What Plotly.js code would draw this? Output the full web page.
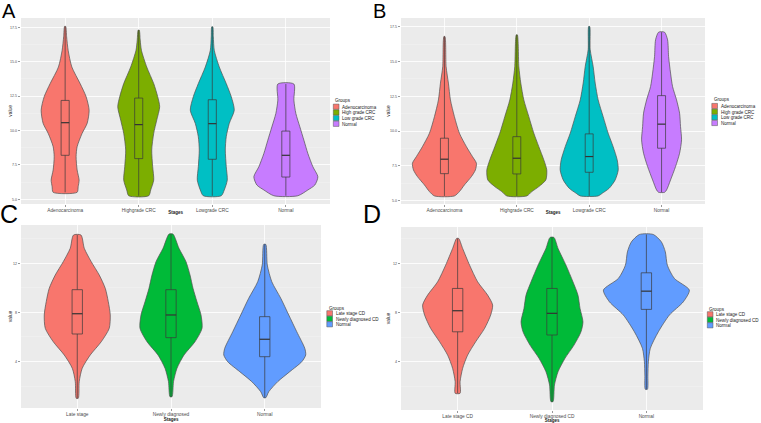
<!DOCTYPE html>
<html>
<head>
<meta charset="utf-8">
<script src="https://cdn.plot.ly/plotly-3.0.1.min.js"></script>
<style>html,body{margin:0;padding:0;background:#fff;}#chart{width:761px;height:423px;}</style>
</head>
<body>
<div id="chart"></div>
<script>
// ---------------- DATA ----------------
// Panel A
const A_groups = ['Adenocarcinoma', 'High grade CRC', 'Low grade CRC', 'Normal'];
const A_ticks = ['Adenocarcinoma', 'Highgrade CRC', 'Lowgrade CRC', 'Normal'];
const A_levels = [
  [17.57, 16.82, 15.83, 14.62, 13.41, 12.46, 11.48, 10.52, 9.80, 8.83, 8.10, 7.13, 6.40, 5.92, 5.51],
  [17.30, 16.58, 15.83, 14.62, 13.41, 12.46, 11.73, 10.76, 9.80, 8.58, 7.37, 6.40, 5.68, 5.26],
  [17.54, 16.82, 15.83, 14.62, 13.41, 12.46, 11.48, 10.52, 9.55, 8.58, 7.37, 6.40, 5.68, 5.26],
  [13.38, 12.21, 11.24, 10.27, 9.30, 8.33, 7.37, 6.64, 6.04, 5.68, 5.26]
];
const A_halfWidths = [
  [0.007, 0.02, 0.041, 0.091, 0.204, 0.285, 0.326, 0.299, 0.231, 0.163, 0.149, 0.163, 0.190, 0.177, 0.163],
  [0.007, 0.02, 0.037, 0.109, 0.204, 0.258, 0.285, 0.245, 0.204, 0.177, 0.190, 0.204, 0.163, 0.136],
  [0.007, 0.014, 0.027, 0.095, 0.19, 0.258, 0.299, 0.231, 0.19, 0.177, 0.19, 0.204, 0.163, 0.122],
  [0.109, 0.109, 0.136, 0.19, 0.245, 0.299, 0.367, 0.435, 0.394, 0.299, 0.163]
];
const A_q1 = [8.20, 7.96, 7.91, 6.62];
const A_median = [10.57, 10.43, 10.50, 8.20];
const A_q3 = [12.19, 12.36, 12.24, 9.96];
const A_min = [5.51, 5.26, 5.26, 5.26];
const A_max = [17.57, 17.30, 17.54, 13.38];

// Panel B
const B_groups = ['Adenocarcinoma', 'High grade CRC', 'Low grade CRC', 'Normal'];
const B_ticks = ['Adenocarcinoma', 'Highgrade CRC', 'Lowgrade CRC', 'Normal'];
const B_levels = [
  [16.80, 14.64, 13.45, 12.24, 11.04, 9.85, 8.88, 8.17, 7.69, 7.21, 6.73, 6.13, 5.65, 5.34],
  [16.92, 14.64, 13.45, 12.24, 11.04, 9.85, 8.88, 7.93, 7.21, 6.49, 6.01, 5.65, 5.34],
  [17.52, 15.86, 14.64, 13.45, 12.24, 11.04, 9.85, 8.88, 7.93, 7.21, 6.49, 5.89, 5.53, 5.34],
  [17.11, 16.56, 15.36, 14.17, 13.20, 12.24, 11.29, 10.32, 9.37, 8.41, 7.45, 6.49, 5.77, 5.60]
];
const B_halfWidths = [
  [0.007, 0.023, 0.055, 0.083, 0.138, 0.207, 0.304, 0.387, 0.442, 0.428, 0.373, 0.276, 0.207, 0.138],
  [0.007, 0.028, 0.055, 0.097, 0.166, 0.235, 0.304, 0.373, 0.414, 0.401, 0.304, 0.207, 0.138],
  [0.007, 0.014, 0.055, 0.083, 0.124, 0.193, 0.262, 0.331, 0.387, 0.401, 0.359, 0.276, 0.18, 0.124],
  [0.041, 0.083, 0.097, 0.124, 0.152, 0.207, 0.249, 0.262, 0.276, 0.249, 0.193, 0.124, 0.069, 0.041]
];
const B_q1 = [6.94, 6.92, 7.04, 8.77];
const B_median = [7.98, 8.05, 8.17, 10.50];
const B_q3 = [9.49, 9.60, 9.80, 12.55];
const B_min = [5.34, 5.34, 5.34, 5.60];
const B_max = [16.80, 16.92, 17.52, 17.11];

// Panel C
const C_groups = ['Late stage CD', 'Newly diagnosed CD', 'Normal'];
const C_ticks = ['Late stage', 'Newly diagnosed', 'Normal'];
const C_levels = [
  [14.30, 13.22, 12.13, 11.04, 9.96, 8.87, 7.79, 6.70, 5.61, 4.53, 3.45, 2.36, 1.00],
  [14.38, 13.22, 12.13, 11.04, 9.96, 8.87, 7.79, 6.70, 5.61, 4.53, 3.45, 2.36, 1.13],
  [13.54, 11.86, 10.50, 9.15, 7.79, 6.43, 5.07, 4.53, 3.98, 3.17, 2.36, 1.54, 1.05]
];
const C_halfWidths = [
  [0.04, 0.075, 0.149, 0.235, 0.299, 0.331, 0.352, 0.341, 0.256, 0.139, 0.053, 0.021, 0.011],
  [0.021, 0.085, 0.16, 0.203, 0.235, 0.277, 0.32, 0.331, 0.256, 0.139, 0.064, 0.027, 0.011],
  [0.011, 0.027, 0.075, 0.171, 0.256, 0.341, 0.427, 0.437, 0.395, 0.267, 0.139, 0.043, 0.011]
];
const C_q1 = [6.24, 5.94, 4.39];
const C_median = [7.89, 7.79, 5.81];
const C_q3 = [9.85, 9.85, 7.65];
const C_min = [1.00, 1.13, 1.05];
const C_max = [14.30, 14.38, 13.54];

// Panel D
const D_groups = ['Late stage CD', 'Newly diagnosed CD', 'Normal'];
const D_ticks = ['Late stage CD', 'Newly diagnosed CD', 'Normal'];
const D_levels = [
  [14.01, 13.20, 11.84, 10.49, 9.41, 8.60, 7.79, 6.71, 5.62, 4.54, 3.46, 2.38, 1.44],
  [14.09, 13.20, 11.84, 10.49, 9.41, 8.33, 7.24, 6.43, 5.35, 4.28, 3.19, 2.11, 0.76],
  [14.33, 13.73, 12.92, 11.84, 10.76, 9.82, 8.87, 7.79, 6.43, 5.09, 4.00, 2.92, 1.76]
];
const D_halfWidths = [
  [0.011, 0.053, 0.127, 0.212, 0.318, 0.371, 0.35, 0.286, 0.191, 0.106, 0.053, 0.026, 0.026],
  [0.021, 0.064, 0.148, 0.222, 0.275, 0.297, 0.328, 0.307, 0.233, 0.138, 0.064, 0.026, 0.011],
  [0.074, 0.159, 0.201, 0.222, 0.297, 0.455, 0.392, 0.244, 0.127, 0.042, 0.021, 0.016, 0.011]
];
const D_q1 = [6.43, 6.17, 8.25];
const D_median = [8.14, 7.93, 9.73];
const D_q3 = [9.95, 9.95, 11.22];
const D_min = [1.44, 0.76, 1.76];
const D_max = [14.01, 14.09, 14.33];

const colors4 = ['#F8766D', '#7CAE00', '#00BFC4', '#C77CFF'];
const colors3 = ['#F8766D', '#00BA38', '#619CFF'];

// ---------------- BUILD ----------------
const W = 761, H = 423;
const px = v => v / W;
const py = v => 1 - v / H;
const FONT = 'Liberation Sans, Arial, sans-serif';
const BOX_HALF = 0.055;

const panels = [
  {id: '', letter: 'A', groups: A_groups, ticks: A_ticks, levels: A_levels, hw: A_halfWidths,
   q1: A_q1, med: A_median, q3: A_q3, lo: A_min, hi: A_max, colors: colors4,
   dom: [21, 330, 18, 204], yr: [4.66, 18.18], yt: [5, 7.5, 10, 12.5, 15, 17.5], ytt: ['5.0','7.5','10.0','12.5','15.0','17.5'], minor: 1.25,
   leg: {x: 333, title: 100, rows: [106.7, 112.4, 118.1, 123.8]}, let: [1, -1, 20], titleDy: -4, yTitleDx: 7},
  {id: '2', letter: 'B', groups: B_groups, ticks: B_ticks, levels: B_levels, hw: B_halfWidths,
   q1: B_q1, med: B_median, q3: B_q3, lo: B_min, hi: B_max, colors: colors4,
   dom: [401, 705, 18, 204], yr: [4.76, 18.13], yt: [5, 7.5, 10, 12.5, 15, 17.5], ytt: ['5.0','7.5','10.0','12.5','15.0','17.5'], minor: 1.25,
   leg: {x: 711.5, title: 99, rows: [106, 111.7, 117.3, 123]}, let: [372, -1, 20], titleDy: -4, yTitleDx: 7},
  {id: '3', letter: 'C', groups: C_groups, ticks: C_ticks, levels: C_levels, hw: C_halfWidths,
   q1: C_q1, med: C_median, q3: C_q3, lo: C_min, hi: C_max, colors: colors3,
   dom: [21, 321, 225, 408], yr: [0.21, 15.12], yt: [4, 8, 12], ytt: ['4','8','12'], minor: 2,
   leg: {x: 326.5, title: 307.5, rows: [313.3, 318.8, 324.3]}, let: [-1, 199, 25], titleDy: 0, yTitleDx: 4},
  {id: '4', letter: 'D', groups: D_groups, ticks: D_ticks, levels: D_levels, hw: D_halfWidths,
   q1: D_q1, med: D_median, q3: D_q3, lo: D_min, hi: D_max, colors: colors3,
   dom: [401, 703, 227, 410], yr: [0.08, 14.94], yt: [4, 8, 12], ytt: ['4','8','12'], minor: 2,
   leg: {x: 707, title: 309, rows: [314.3, 319.8, 325.3]}, let: [362, 199, 25], titleDy: 1, yTitleDx: 2}
];

const traces = [];
const layout = {
  width: W, height: H,
  margin: {l: 0, r: 0, t: 0, b: 0},
  paper_bgcolor: '#ffffff',
  plot_bgcolor: '#EBEBEB',
  showlegend: false,
  font: {family: FONT, color: '#000'},
  annotations: [],
  shapes: []
};

panels.forEach(p => {
  const xa = 'x' + p.id, ya = 'y' + p.id;
  const n = p.groups.length;
  p.groups.forEach((g, i) => {
    const c = i + 1;
    const lv = p.levels[i], hw = p.hw[i];
    const xs = [], ys = [];
    for (let k = lv.length - 1; k >= 0; k--) { xs.push(c + hw[k]); ys.push(lv[k]); }
    for (let k = 0; k < lv.length; k++) { xs.push(c - hw[k]); ys.push(lv[k]); }
    xs.push(xs[0]); ys.push(ys[0]);
    traces.push({
      type: 'scatter', mode: 'lines', x: xs, y: ys, name: g,
      fill: 'toself', fillcolor: p.colors[i],
      line: {color: '#505050', width: 0.7, shape: 'spline', smoothing: 0.7},
      xaxis: xa, yaxis: ya, hoverinfo: 'skip', showlegend: false
    });
    // box (whiskers + box outline), built from the quartiles
    const a = c - BOX_HALF, b = c + BOX_HALF;
    traces.push({
      type: 'scatter', mode: 'lines', name: g + ' box',
      x: [c, c, null, a, b, b, a, a, null, c, c],
      y: [p.lo[i], p.q1[i], null, p.q1[i], p.q1[i], p.q3[i], p.q3[i], p.q1[i], null, p.q3[i], p.hi[i]],
      line: {color: '#3a3a3a', width: 0.7}, connectgaps: false,
      xaxis: xa, yaxis: ya, hoverinfo: 'skip', showlegend: false
    });
    traces.push({
      type: 'scatter', mode: 'lines', name: g + ' median',
      x: [a, b], y: [p.med[i], p.med[i]],
      line: {color: '#333333', width: 1.2},
      xaxis: xa, yaxis: ya, hoverinfo: 'skip', showlegend: false
    });
  });

  const d = p.dom;
  layout['xaxis' + p.id] = {
    domain: [px(d[0]), px(d[1])], anchor: ya,
    range: [0.4, n + 0.6],
    tickmode: 'array', tickvals: p.groups.map((_, i) => i + 1), ticktext: p.ticks,
    showgrid: true, gridcolor: '#ffffff', gridwidth: 0.8, zeroline: false, showline: false,
    ticks: 'outside', ticklen: 2, tickwidth: 0.6, tickcolor: '#555',
    tickfont: {family: FONT, size: 6, color: '#4d4d4d'},
    title: {text: '<b>Stages</b>', font: {family: FONT, size: 6, color: '#222'}, standoff: 0},
    fixedrange: true
  };
  layout['yaxis' + p.id] = {
    domain: [py(d[3]), py(d[2])], anchor: xa,
    range: p.yr,
    tickmode: 'array', tickvals: p.yt, ticktext: p.ytt,
    showgrid: true, gridcolor: '#ffffff', gridwidth: 0.8, zeroline: false, showline: false,
    minor: {tickmode: 'linear', tick0: 0, dtick: p.minor, showgrid: true, gridcolor: '#F4F4F4', gridwidth: 0.5, ticks: ''},
    ticks: 'outside', ticklen: 2, tickwidth: 0.6, tickcolor: '#555',
    tickfont: {family: FONT, size: 6, color: '#4d4d4d'},
    title: {text: 'value', font: {family: FONT, size: 6, color: '#222'}, standoff: 0},
    fixedrange: true
  };

  // panel letter
  layout.annotations.push({
    xref: 'paper', yref: 'paper', x: px(p.let[0]), y: py(p.let[1]),
    xanchor: 'left', yanchor: 'top', showarrow: false, borderpad: 0,
    text: p.letter, font: {family: FONT, size: p.let[2], color: '#000'}
  });

  // legend (ggplot style)
  layout.annotations.push({
    xref: 'paper', yref: 'paper', x: px(p.leg.x), y: py(p.leg.title),
    xanchor: 'left', yanchor: 'middle', showarrow: false,
    text: 'Groups', font: {family: FONT, size: 6, color: '#222'}
  });
  p.groups.forEach((g, i) => {
    const yc = p.leg.rows[i];
    layout.shapes.push({
      type: 'rect', xref: 'paper', yref: 'paper',
      x0: px(p.leg.x + 0.3), x1: px(p.leg.x + 6), y0: py(yc + 2.6), y1: py(yc - 2.6),
      fillcolor: p.colors[i], line: {color: '#555', width: 0.5}
    });
    layout.annotations.push({
      xref: 'paper', yref: 'paper', x: px(p.leg.x + 7.2), y: py(yc),
      xanchor: 'left', yanchor: 'middle', showarrow: false,
      text: g, font: {family: FONT, size: 6, color: '#222'}
    });
  });
});

// The browser will not draw text under 6px, so the tiny ggplot-sized texts
// are drawn at 6px and then scaled down around an anchor point.
function shrink(el, s, ax, ay, dx, dy) {
  const r = el.getBoundingClientRect();
  if (!r.width) return;
  const svg = el.ownerSVGElement;
  const parent = el.parentNode;
  const m = parent.getScreenCTM().inverse();
  const sx = r.left + ax * r.width, sy = r.top + ay * r.height;
  const p1 = svg.createSVGPoint(); p1.x = sx; p1.y = sy;
  const p2 = svg.createSVGPoint(); p2.x = sx + dx; p2.y = sy + dy;
  const a = p1.matrixTransform(m), b = p2.matrixTransform(m);
  const g = document.createElementNS('http://www.w3.org/2000/svg', 'g');
  g.setAttribute('transform', `translate(${b.x},${b.y}) scale(${s}) translate(${-a.x},${-a.y})`);
  parent.insertBefore(g, el);
  g.appendChild(el);
}

Plotly.newPlot('chart', traces, layout, {displayModeBar: false, staticPlot: true}).then(gd => {
  gd.querySelectorAll('.xaxislayer-above text').forEach(t => shrink(t, 0.8, 0.5, 0, 0, -1));
  gd.querySelectorAll('.yaxislayer-above text').forEach(t => shrink(t, 0.6, 1, 0.5, 0, 0));
  panels.forEach(p => {
    gd.querySelectorAll('.g-x' + p.id + 'title text').forEach(t => shrink(t, 0.75, 0.5, 0.5, 0, p.titleDy));
    gd.querySelectorAll('.g-y' + p.id + 'title text').forEach(t => shrink(t, 0.8, 0.5, 0.5, p.yTitleDx, 0));
  });
  gd.querySelectorAll('text.annotation-text').forEach(t => {
    const fs = parseFloat(t.style.fontSize || t.getAttribute('font-size') || '20');
    if (fs <= 6.5) shrink(t, 0.76, 0, 0.5, 0, 0);
  });
});
</script>
</body>
</html>
